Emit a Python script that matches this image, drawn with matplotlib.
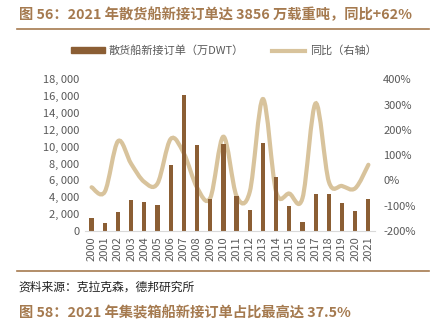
import numpy as np
import matplotlib
matplotlib.use('Agg')
import matplotlib.pyplot as plt
from matplotlib.path import Path
from matplotlib.patches import PathPatch, Rectangle
from matplotlib.lines import Line2D
from matplotlib.ticker import FuncFormatter

plt.rcParams['font.family'] = ['Noto Sans CJK SC', 'DejaVu Sans']

years = [str(y) for y in range(2000, 2022)]
orders = [1580, 950, 2290, 3710, 3400, 3050, 7830, 16130, 10240, 3800, 10280,
          4190, 2490, 10440, 6400, 3000, 1100, 4350, 4430, 3360, 2380, 3856]
yoy = [-27, -45, 155, 66, -6, -12, 164, 107, -28, -70, 173,
       -62, -45, 322, -45, -52, -70, 305, -5, -22, -31, 62]

TITLE = '图 56：2021 年散货船新接订单达 3856 万载重吨，同比+62%'
NEXT_TITLE = '图 58：2021 年集装箱船新接订单占比最高达 37.5%'
SOURCE = '资料来源：克拉克森，德邦研究所'

BAR_C = '#8B5E34'
LINE_C = '#D8C39C'
TITLE_C = '#A57A4F'
TXT_C = '#595959'


def smooth_path(xs, ys):
    # Bezier segments through every data point (Excel-style smoothed line)
    pts = np.column_stack([xs, ys]).astype(float)
    verts = [pts[0]]
    codes = [Path.MOVETO]
    n = len(pts)
    for i in range(n - 1):
        p0 = pts[i - 1] if i > 0 else pts[i]
        p1, p2 = pts[i], pts[i + 1]
        p3 = pts[i + 2] if i + 2 < n else pts[i + 1]
        verts += [p1 + (p2 - p0) / 6, p2 - (p3 - p1) / 6, p2]
        codes += [Path.CURVE4] * 3
    return Path(verts, codes)


fig = plt.figure(figsize=(4.33, 3.22), dpi=100)
ax = fig.add_axes([0.1963, 0.2826, 0.6697, 0.4711])
x = np.arange(len(years))
ax.bar(x, orders, width=0.32, color=BAR_C, zorder=2)
ax.set_xlim(-0.5, len(years) - 0.5)
ax.set_ylim(0, 18000)
ax.set_yticks(range(0, 18001, 2000))
ax.yaxis.set_major_formatter(FuncFormatter(lambda v, p: f'{int(v):,}'.replace(',', ', ')))
ax.set_xticks(x)
ax.set_xticklabels(years, rotation=90)
for s in ['top', 'right', 'left']:
    ax.spines[s].set_visible(False)
ax.spines['bottom'].set_color('#D9D9D9')
ax.tick_params(length=0, labelsize=8, colors=TXT_C, pad=4)

ax2 = ax.twinx()
ax2.set_ylim(-200, 400)
ax2.set_yticks(range(-200, 401, 100))
ax2.yaxis.set_major_formatter(FuncFormatter(lambda v, p: f'{int(v)}%'))
for s in ax2.spines.values():
    s.set_visible(False)
ax2.tick_params(length=0, labelsize=8, colors=TXT_C, pad=6)
ax2.add_patch(PathPatch(smooth_path(x, yoy), fill=False, edgecolor=LINE_C,
                        linewidth=3, capstyle='round', zorder=3))
ax.set_zorder(ax2.get_zorder() + 1)
ax.patch.set_visible(False)

handles = [Rectangle((0, 0), 1, 1, color=BAR_C), Line2D([], [], color=LINE_C, lw=3)]
fig.legend(handles, ['散货船新接订单（万DWT）', '同比（右轴）'], loc='center',
           bbox_to_anchor=(0.517, 0.842), ncol=2, frameon=False, fontsize=8,
           handlelength=3.0, handleheight=0.5, columnspacing=2.5, handletextpad=0.4,
           labelcolor=TXT_C)

fig.text(0.044, 0.953, TITLE, fontsize=10.3, fontweight='bold', color=TITLE_C, va='center')
fig.add_artist(Line2D([0.04, 0.99], [0.909, 0.909], color=TITLE_C, lw=1.2))
fig.add_artist(Line2D([0.04, 0.99], [0.158, 0.158], color=TITLE_C, lw=1.2))
fig.text(0.042, 0.109, SOURCE, fontsize=8.5, color='#222222', va='center')
fig.text(0.044, 0.028, NEXT_TITLE, fontsize=10.3, fontweight='bold', color=TITLE_C, va='center')

fig.savefig('out.png', dpi=100)
